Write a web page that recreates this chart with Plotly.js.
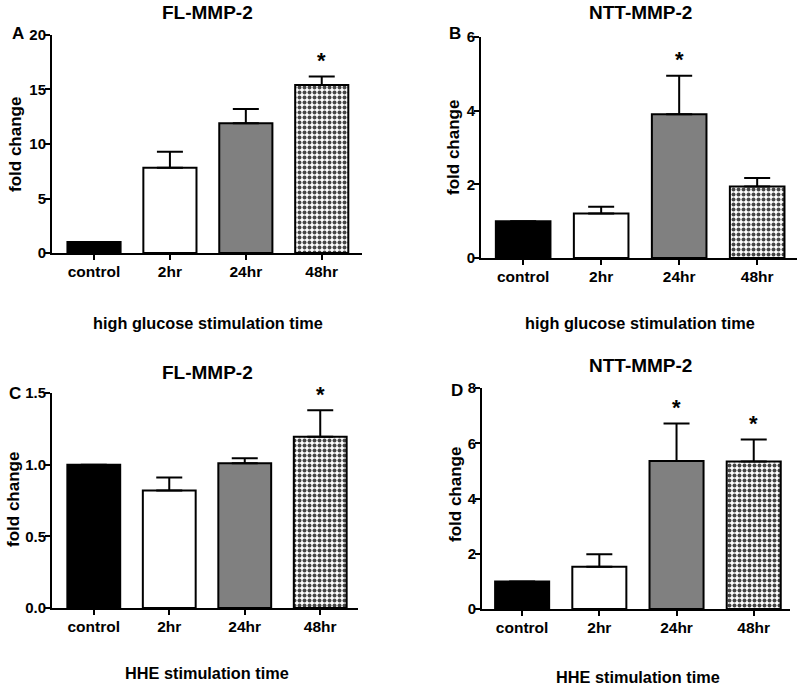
<!DOCTYPE html>
<html>
<head>
<meta charset="utf-8">
<script src="https://cdn.plot.ly/plotly-3.0.1.min.js"></script>
<style>html,body{margin:0;padding:0;background:#fff;}#chart{width:798px;height:687px;}</style>
</head>
<body>
<div id="chart"></div>
<script>
// ---- data ----
const categories = ["control", "2hr", "24hr", "48hr"];
const valuesA = [1.0, 7.83, 11.9, 15.4];
const errTopA = [1.0, 9.3, 13.2, 16.2];
const valuesB = [1.0, 1.21, 3.9, 1.94];
const errTopB = [1.0, 1.39, 4.95, 2.17];
const valuesC = [1.0, 0.82, 1.01, 1.195];
const errTopC = [1.0, 0.91, 1.045, 1.38];
const valuesD = [1.0, 1.53, 5.36, 5.34];
const errTopD = [1.0, 1.98, 6.72, 6.14];
const panelTitles = ["FL-MMP-2", "NTT-MMP-2", "FL-MMP-2", "NTT-MMP-2"];
const panelLetters = ["A", "B", "C", "D"];
const xTitles = ["high glucose stimulation time", "high glucose stimulation time", "HHE stimulation time", "HHE stimulation time"];
const yTitle = "fold change";
const yRanges = [[0, 20], [0, 6], [0, 1.5], [0, 8]];
const yTickVals = [[0, 5, 10, 15, 20], [0, 2, 4, 6], [0, 0.5, 1.0, 1.5], [0, 2, 4, 6, 8]];
const yTickText = [["0", "5", "10", "15", "20"], ["0", "2", "4", "6"], ["0.0", "0.5", "1.0", "1.5"], ["0", "2", "4", "6", "8"]];
// significance stars: [panel, category index] (drawn above the error bar)
const stars = [[0, 3], [1, 2], [2, 3], [3, 2], [3, 3]];

const FONT = "Liberation Sans, Arial, sans-serif";
const fills = ["#000000", "#ffffff", "#808080", "#ffffff"];
const patterns = ["", "", "", "."];

const allVals = [valuesA, valuesB, valuesC, valuesD];
const allErr = [errTopA, errTopB, errTopC, errTopD];

const traces = [];
allVals.forEach((vals, p) => {
  const sfx = p === 0 ? "" : String(p + 1);
  traces.push({
    type: "bar",
    x: categories,
    y: vals,
    xaxis: "x" + sfx,
    yaxis: "y" + sfx,
    width: 0.7,
    marker: {
      color: fills,
      line: {color: "#000", width: 2},
      pattern: {shape: patterns, fgcolor: "#000", bgcolor: "#fff", fgopacity: 1, size: 5, solidity: 0.5, fillmode: "overlay"}
    },
    error_y: {
      type: "data", symmetric: false,
      array: allErr[p].map((e, i) => e - vals[i]),
      arrayminus: vals.map(() => 0),
      color: "#000", thickness: 2, width: 13
    },
    showlegend: false,
    hoverinfo: "skip"
  });
});

const xDomains = [[0.0652, 0.4536], [0.6028, 0.9987], [0.0652, 0.4486], [0.604, 0.990]];
const yDomains = [[0.6317, 0.9491], [0.6245, 0.9461], [0.1150, 0.4279], [0.1135, 0.4352]];
const xRanges = [[-0.553, 3.53], [-0.54, 3.51], [-0.553, 3.5], [-0.52, 3.47]];

const layout = {
  width: 798, height: 687,
  margin: {l: 0, r: 0, t: 0, b: 0},
  paper_bgcolor: "#fff", plot_bgcolor: "#fff",
  bargap: 0.3,
  font: {family: FONT, color: "#000"},
  annotations: []
};

// positions of text (paper pixels) per panel
const titlePos = [[207, 12], [640, 12], [207, 372], [640, 365]];
const letterPos = [[18, 33], [455, 33], [15, 393], [457, 390]];
const xTitlePos = [[208, 323], [640, 323], [207, 673], [638, 677]];
const yTitlePos = [[16, 145], [453, 148], [13, 500], [455, 495]];

for (let p = 0; p < 4; p++) {
  const sfx = p === 0 ? "" : String(p + 1);
  layout["xaxis" + sfx] = {
    domain: xDomains[p], anchor: "y" + sfx, range: xRanges[p],
    type: "category", showgrid: false, zeroline: false,
    showline: true, linecolor: "#000", linewidth: 2,
    ticks: "outside", ticklen: 5, tickwidth: 2, tickcolor: "#000",
    ticklabelstandoff: -2,
    tickfont: {family: FONT, size: 15.5, color: "#000", weight: "bold"},
    fixedrange: true
  };
  layout["yaxis" + sfx] = {
    domain: yDomains[p], anchor: "x" + sfx, range: yRanges[p],
    showgrid: false, zeroline: false,
    showline: true, linecolor: "#000", linewidth: 2,
    ticks: "outside", ticklen: 5, tickwidth: 2, tickcolor: "#000",
    ticklabelstandoff: -4,
    tickvals: yTickVals[p], ticktext: yTickText[p],
    tickfont: {family: FONT, size: 15, color: "#000", weight: "bold"},
    fixedrange: true
  };
  const px = (x) => x / 798, py = (y) => 1 - y / 687;
  layout.annotations.push({xref: "paper", yref: "paper", x: px(titlePos[p][0]), y: py(titlePos[p][1]),
    text: panelTitles[p], showarrow: false, xanchor: "center", yanchor: "middle",
    font: {family: FONT, size: 19, weight: "bold", color: "#000"}});
  layout.annotations.push({xref: "paper", yref: "paper", x: px(letterPos[p][0]), y: py(letterPos[p][1]),
    text: panelLetters[p], showarrow: false, xanchor: "center", yanchor: "middle",
    font: {family: FONT, size: 17, weight: "bold", color: "#000"}});
  layout.annotations.push({xref: "paper", yref: "paper", x: px(xTitlePos[p][0]), y: py(xTitlePos[p][1]),
    text: xTitles[p], showarrow: false, xanchor: "center", yanchor: "middle",
    font: {family: FONT, size: 16.3, weight: "bold", color: "#000"}});
  layout.annotations.push({xref: "paper", yref: "paper", x: px(yTitlePos[p][0]), y: py(yTitlePos[p][1]),
    text: yTitle, showarrow: false, xanchor: "center", yanchor: "middle", textangle: -90,
    font: {family: FONT, size: 17, weight: "bold", color: "#000"}});
}

stars.forEach(([p, ci]) => {
  const sfx = p === 0 ? "" : String(p + 1);
  layout.annotations.push({xref: "x" + sfx, yref: "y" + sfx, x: categories[ci], y: allErr[p][ci],
    text: "*", showarrow: false, xanchor: "center", yanchor: "middle", yshift: 16,
    font: {family: FONT, size: 22, weight: "bold", color: "#000"}});
});

Plotly.newPlot("chart", traces, layout, {displayModeBar: false, staticPlot: true});
</script>
</body>
</html>
